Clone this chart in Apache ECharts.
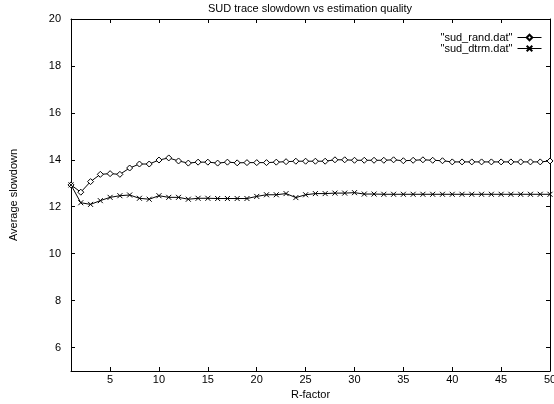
<!DOCTYPE html>
<html>
<head>
<meta charset="utf-8">
<script src="https://cdn.jsdelivr.net/npm/echarts@6/dist/echarts.min.js"></script>
<style>html,body{margin:0;padding:0;background:#fff}#c{width:554px;height:404px}</style>
</head>
<body>
<div id="c"></div>
<script>
const rFactor = [1,2,3,4,5,6,7,8,9,10,11,12,13,14,15,16,17,18,19,20,21,22,23,24,25,26,27,28,29,30,31,32,33,34,35,36,37,38,39,40,41,42,43,44,45,46,47,48,49,50];
const sudRand = [12.93,12.62,13.07,13.38,13.41,13.38,13.65,13.82,13.82,13.99,14.08,13.95,13.86,13.9,13.9,13.86,13.9,13.87,13.88,13.88,13.88,13.9,13.92,13.94,13.94,13.94,13.94,14.0,14.0,13.98,13.98,13.98,13.98,14.0,13.96,13.98,14.0,13.98,13.96,13.91,13.91,13.91,13.91,13.91,13.91,13.91,13.91,13.91,13.91,13.95];
const sudDtrm = [12.93,12.17,12.1,12.26,12.4,12.47,12.5,12.36,12.32,12.47,12.4,12.4,12.32,12.36,12.36,12.35,12.35,12.35,12.35,12.44,12.51,12.51,12.56,12.39,12.51,12.56,12.56,12.58,12.58,12.6,12.54,12.54,12.53,12.53,12.53,12.53,12.53,12.53,12.53,12.53,12.53,12.53,12.53,12.53,12.53,12.53,12.53,12.53,12.53,12.53];
const yTicks = [6,8,10,12,14,16,18,20];
const xTicks = [5,10,15,20,25,30,35,40,45,50];
const seriesNames = ['"sud_rand.dat"', '"sud_dtrm.dat"'];

const font = 'Liberation Sans, Arial, Helvetica, sans-serif';
const chart = echarts.init(document.getElementById('c'), null, {renderer: 'canvas'});
const axisLine = {show: true, lineStyle: {color: '#000', width: 1}};
const tick = (vals) => ({show: true, inside: true, length: 4, customValues: vals, lineStyle: {color: '#000', width: 1}});
const crossPath = 'path://M0,0L10,10M10,0L0,10';

chart.setOption({
  animation: false,
  backgroundColor: '#fff',
  title: {
    text: 'SUD trace slowdown vs estimation quality',
    left: 310, top: 3, padding: 0, textAlign: 'center',
    textStyle: {fontFamily: font, fontSize: 11, fontWeight: 'normal', color: '#000'}
  },
  legend: {
    orient: 'vertical', right: 12, top: 32, align: 'right', padding: 0,
    itemWidth: 24, itemHeight: 7, itemGap: 0,
    lineStyle: {width: 1, color: '#000'},
    textStyle: {fontFamily: font, fontSize: 11, lineHeight: 11, color: '#000', padding: [0, 0, 0, 0]},
    data: seriesNames
  },
  grid: {left: 71, right: 4, top: 19, bottom: 33, containLabel: false, outerBoundsMode: 'none'},
  xAxis: [{
    type: 'value', min: 1, max: 50, position: 'bottom',
    name: 'R-factor', nameLocation: 'middle', nameGap: 15,
    nameTextStyle: {fontFamily: font, fontSize: 11, color: '#000'},
    axisLine: axisLine, axisTick: tick(xTicks), splitLine: {show: false},
    axisLabel: {customValues: xTicks, fontFamily: font, fontSize: 11, color: '#000', margin: 3, hideOverlap: false}
  }, {
    type: 'value', min: 1, max: 50, position: 'top',
    axisLine: axisLine, axisTick: tick(xTicks), splitLine: {show: false},
    axisLabel: {show: false}
  }],
  yAxis: [{
    type: 'value', min: 5, max: 20, position: 'left',
    name: 'Average slowdown', nameLocation: 'middle', nameGap: 52, nameRotate: 90,
    nameTextStyle: {fontFamily: font, fontSize: 11, color: '#000'},
    axisLine: axisLine, axisTick: tick(yTicks), splitLine: {show: false},
    axisLabel: {customValues: yTicks, fontFamily: font, fontSize: 11, color: '#000', margin: 10}
  }, {
    type: 'value', min: 5, max: 20, position: 'right',
    axisLine: axisLine, axisTick: tick(yTicks), splitLine: {show: false},
    axisLabel: {show: false}
  }],
  series: [{
    name: seriesNames[0], type: 'line',
    data: rFactor.map((x, i) => [x, sudRand[i]]),
    symbol: 'diamond', symbolSize: 6, showAllSymbol: true,
    lineStyle: {color: '#000', width: 1},
    itemStyle: {color: '#fff', borderColor: '#000', borderWidth: 1}
  }, {
    name: seriesNames[1], type: 'line',
    data: rFactor.map((x, i) => [x, sudDtrm[i]]),
    symbol: crossPath, symbolSize: 5, showAllSymbol: true,
    lineStyle: {color: '#000', width: 1},
    itemStyle: {color: 'transparent', borderColor: '#000', borderWidth: 1}
  }]
});
</script>
</body>
</html>
